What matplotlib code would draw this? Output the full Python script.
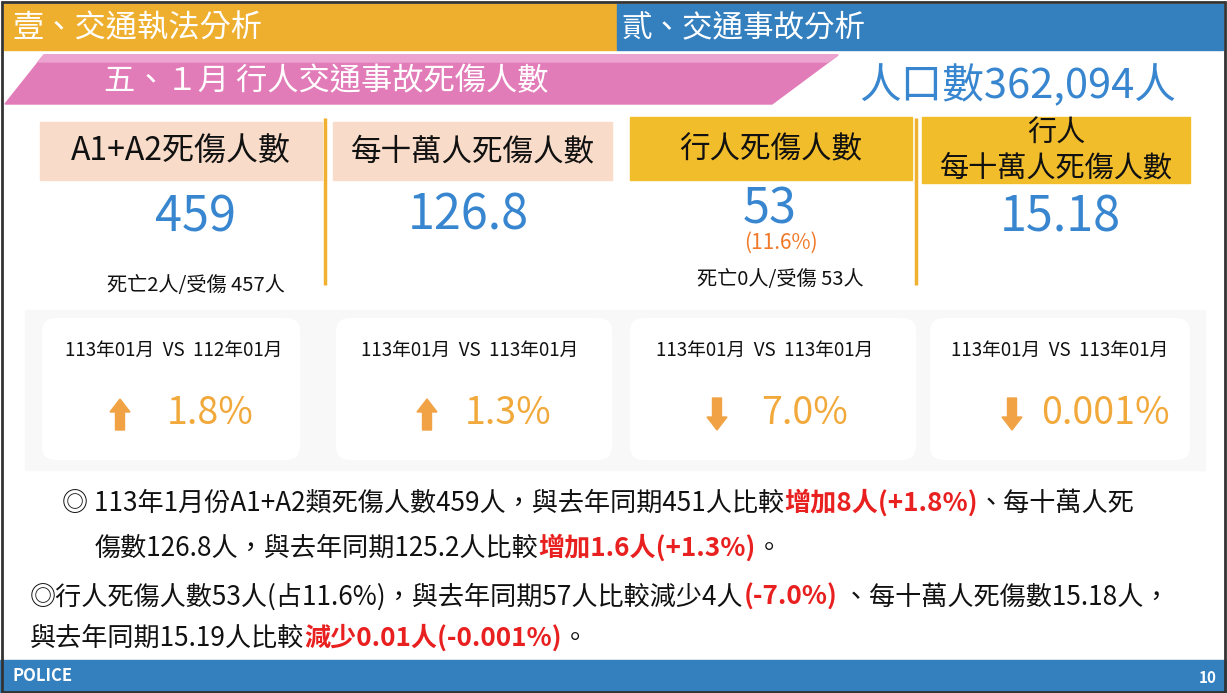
import numpy as np
import matplotlib
matplotlib.use("Agg")
import matplotlib.pyplot as plt
from matplotlib.patches import Rectangle, Polygon, FancyBboxPatch, FancyArrow

plt.rcParams['font.family'] = ['Noto Sans CJK TC', 'DejaVu Sans']

# ---- data ----
section_left = "壹、交通執法分析"
section_right = "貳、交通事故分析"
banner_title = "五、１月 行人交通事故死傷人數"
population = "人口數362,094人"

card_titles = ["A1+A2死傷人數", "每十萬人死傷人數", "行人死傷人數", "行人\n每十萬人死傷人數"]
card_values = ["459", "126.8", "53", "15.18"]
card_share = ["", "", "(11.6%)", ""]
card_notes = ["死亡2人/受傷 457人", "", "死亡0人/受傷 53人", ""]
compare_labels = ["113年01月  VS  112年01月", "113年01月  VS  113年01月",
                  "113年01月  VS  113年01月", "113年01月  VS  113年01月"]
change_pct = ["1.8%", "1.3%", "7.0%", "0.001%"]
change_dir = ["up", "up", "down", "down"]

# summary lines: list of (text, is_highlight)
summary_lines = [
    [("◎ 113年1月份A1+A2類死傷人數459人，與去年同期451人比較", False),
     ("增加8人(+1.8%)", True), ("、每十萬人死", False)],
    [("傷數126.8人，與去年同期125.2人比較", False),
     ("增加1.6人(+1.3%)", True), ("。", False)],
    [("◎行人死傷人數53人(占11.6%)，與去年同期57人比較減少4人", False),
     ("(-7.0%)", True), (" 、每十萬人死傷數15.18人，", False)],
    [("與去年同期15.19人比較", False),
     ("減少0.01人(-0.001%)", True), ("。", False)],
]
footer_left = "POLICE"
page_no = "10"

# ---- colours ----
ORANGE_HDR = "#EFAF2E"
BLUE_HDR = "#3480BF"
PINK = "#E27CB9"
PEACH = "#F8DCC9"
GOLD = "#F2BD2A"
NUM_BLUE = "#3786CF"
PCT_ORANGE = "#F2A93B"
RED = "#E8201F"

W, H = 1227, 693
fig = plt.figure(figsize=(W / 100, H / 100), dpi=100)
ax = fig.add_axes([0, 0, 1, 1])
ax.set_xlim(0, W)
ax.set_ylim(H, 0)
ax.axis('off')
fig.patch.set_facecolor("white")

# top section bars
ax.add_patch(Rectangle((4, 4), 612, 46, color=ORANGE_HDR, zorder=1))
ax.add_patch(Rectangle((617, 4), 606, 46, color=BLUE_HDR, zorder=1))
ax.text(12, 28, section_left, color="white", fontsize=22.5, va="center", ha="left")
ax.text(622, 28, section_right, color="white", fontsize=22, va="center", ha="left")

# pink banner
ax.add_patch(Polygon([(44, 55), (838, 55), (772, 104), (5, 104)], closed=True,
                     color=PINK, zorder=1))
ax.add_patch(Polygon([(44, 55), (838, 55), (828, 62), (38, 62)], closed=True,
                     color="#EDA3D0", zorder=1))
ax.text(326, 81, banner_title, color="white", fontsize=22.5, va="center", ha="center")
ax.text(1018, 86, population, color=NUM_BLUE, fontsize=30, va="center", ha="center")

# top cards
hdr_boxes = [(40, 122, 282, 58, PEACH), (333, 122, 279, 58, PEACH),
             (630, 117, 282, 63, GOLD), (922, 117, 268, 66, GOLD)]
title_size = [23, 22, 22, 21]
for (x, y, w, h, c), title, fs in zip(hdr_boxes, card_titles, title_size):
    ax.add_patch(Rectangle((x, y), w, h, color=c, zorder=1))
    ax.text(x + w / 2, y + h / 2 + 1, title, fontsize=fs, ha="center", va="center",
            linespacing=1.2, color="#111111")

for lx in [325, 916]:
    ax.plot([lx, lx], [118, 285], color="#F0B030", lw=2.5, solid_capstyle="butt")

value_x = [196, 468, 770, 1060]
value_y = [218, 216, 210, 218]
for cx, v, vy in zip(value_x, card_values, value_y):
    ax.text(cx, vy, v, color=NUM_BLUE, fontsize=35, ha="center", va="center")
for cx, s in zip(value_x, card_share):
    if s:
        ax.text(cx + 11, 243, s, color="#F07A2A", fontsize=15, ha="center", va="center")
note_x = [196, 468, 780, 1060]
note_y = [285, 279, 279, 279]
for cx, n, ny in zip(note_x, card_notes, note_y):
    if n:
        ax.text(cx, ny, n, color="#111111", fontsize=14.5, ha="center", va="center")

# comparison cards
ax.add_patch(Rectangle((25, 310), 1180, 160, color="#F8F8F8", zorder=0))
cmp_boxes = [(42, 318, 258, 142), (336, 318, 276, 142), (630, 318, 286, 142), (930, 318, 260, 142)]
label_x = [174, 470, 765, 1060]
pct_x = [210, 508, 805, 1105]
arrow_x = [120, 427, 717, 1012]
for (x, y, w, h), lab, pct, d, lx, px, axx in zip(cmp_boxes, compare_labels, change_pct,
                                                  change_dir, label_x, pct_x, arrow_x):
    ax.add_patch(FancyBboxPatch((x, y), w, h, boxstyle="round,pad=0,rounding_size=14",
                                facecolor="white", edgecolor="none", zorder=1))
    ax.text(lx, 350, lab, fontsize=13.5, ha="center", va="center",
            color="#111111", zorder=2)
    ax.text(px, 413, pct, fontsize=27, ha="center", va="center", color=PCT_ORANGE, zorder=2)
    if d == "up":
        ax.add_patch(FancyArrow(axx, 430, 0, -31, width=9, head_width=20, head_length=13,
                                length_includes_head=True, color="#F0A245", zorder=2))
    else:
        ax.add_patch(FancyArrow(axx, 398, 0, 32, width=9, head_width=20, head_length=13,
                                length_includes_head=True, color="#F0A245", zorder=2))

# summary text
renderer = fig.canvas.get_renderer()
line_start = [62, 95, 30, 30]
line_y = [503, 548, 597, 638]
for parts, x0, y0 in zip(summary_lines, line_start, line_y):
    x = x0
    for txt, hi in parts:
        t = ax.text(x, y0, txt, fontsize=18.8, ha="left", va="center",
                    color=RED if hi else "#111111",
                    fontweight="bold" if hi else "normal")
        bb = t.get_window_extent(renderer)
        x = bb.x1

# footer
ax.add_patch(Rectangle((0, 660), W, 33, color=BLUE_HDR, zorder=1))
ax.text(12, 676, footer_left, color="white", fontsize=12, fontweight="bold",
        ha="left", va="center")
ax.text(1208, 678, page_no, color="white", fontsize=11, fontweight="bold",
        ha="center", va="center")

# scan frame
ax.add_patch(Rectangle((1.5, 1.5), W - 4, H - 3, fill=False, edgecolor="#333333", lw=2, zorder=5))

fig.savefig("out.png", dpi=100)
